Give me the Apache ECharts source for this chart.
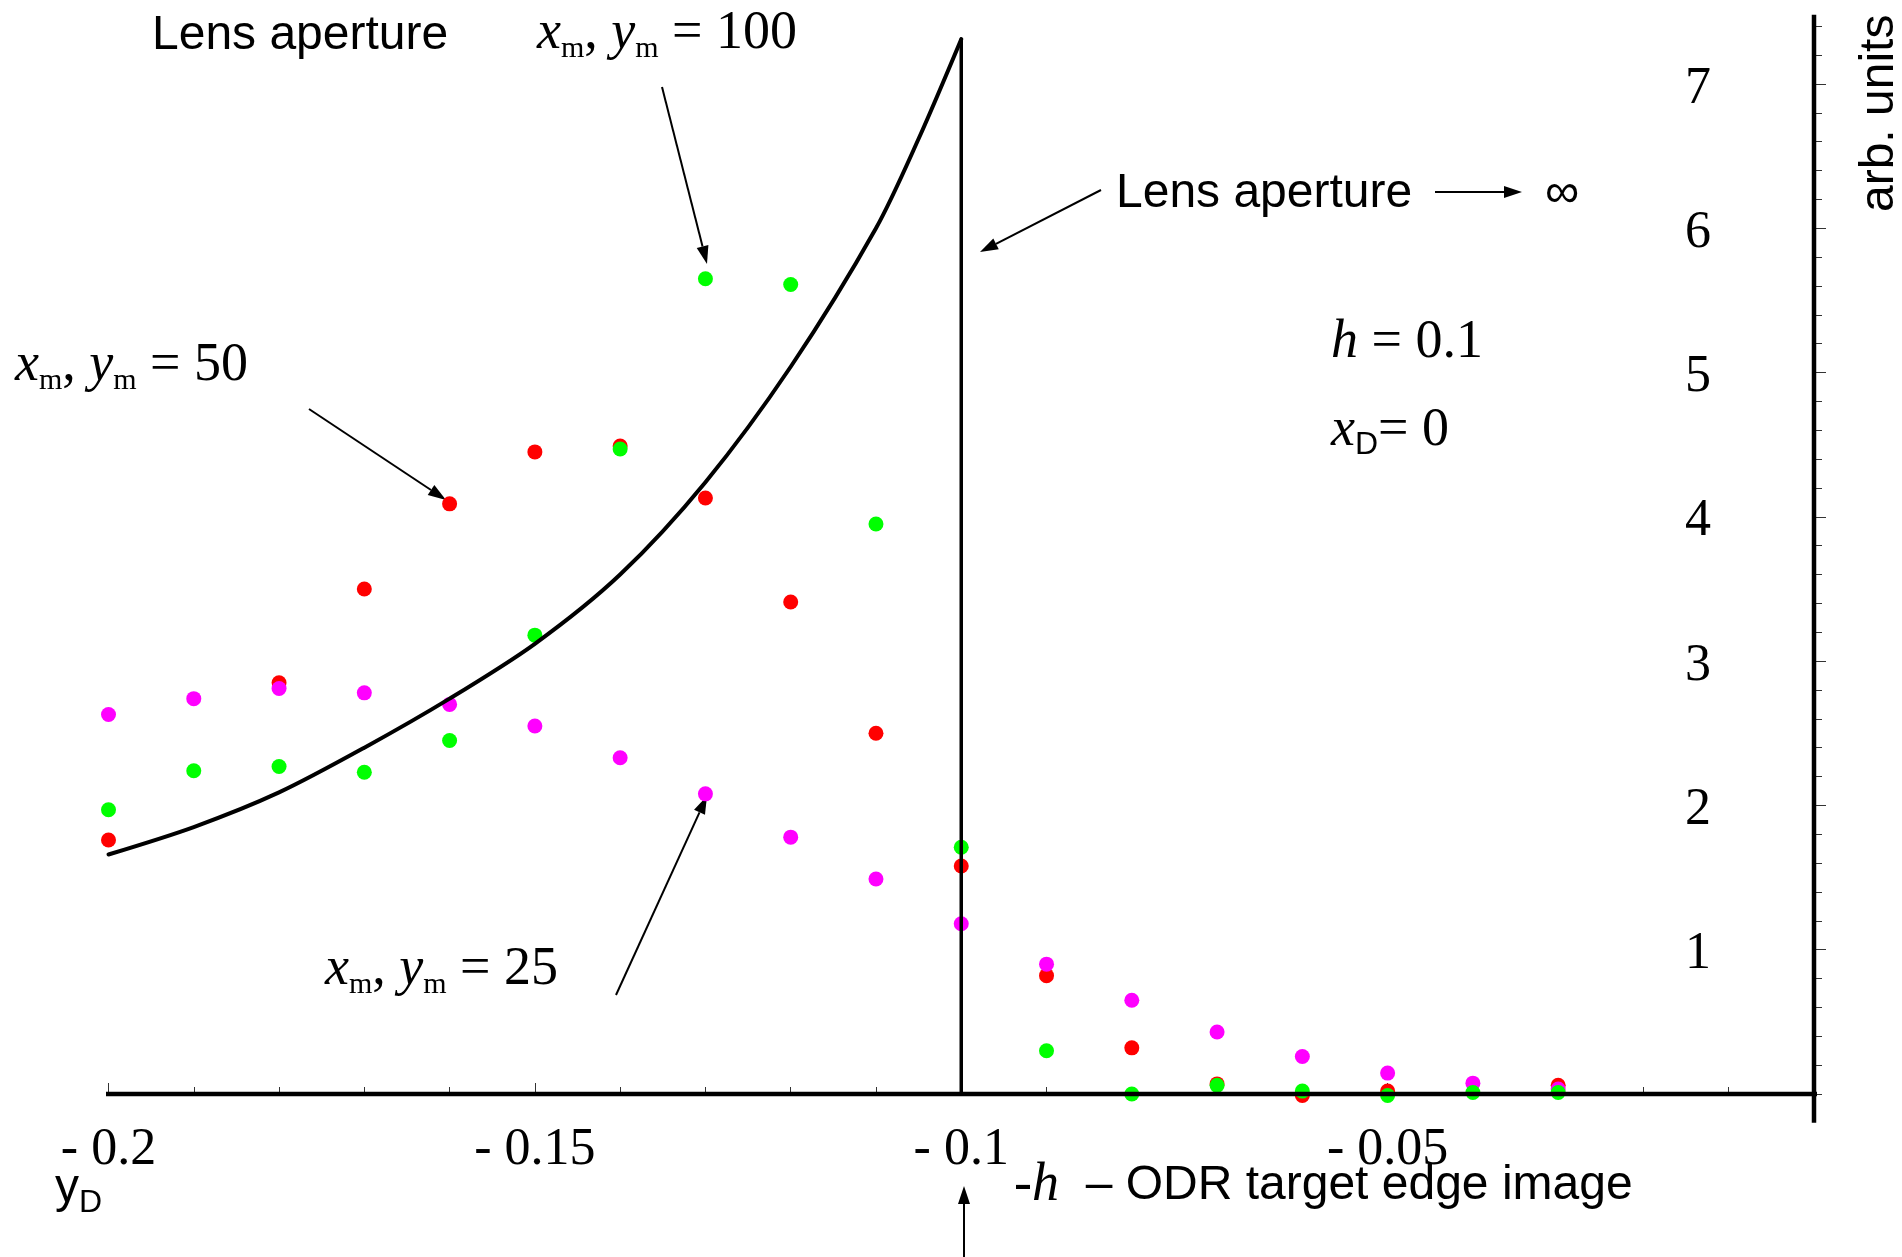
<!DOCTYPE html>
<html>
<head>
<meta charset="utf-8">
<script src="https://cdn.jsdelivr.net/npm/echarts@6/dist/echarts.min.js"></script>
<style>
  html, body { margin: 0; padding: 0; background: #fff; }
  #main { width: 1902px; height: 1257px; }
</style>
</head>
<body>
<div id="main"></div>
<script>
// sample positions y_D
const xs = [-0.2, -0.19, -0.18, -0.17, -0.16, -0.15, -0.14, -0.13, -0.12, -0.11,
            -0.1, -0.09, -0.08, -0.07, -0.06, -0.05, -0.04, -0.03];
// x_m, y_m = 50
const red = [1.76, null, 2.85, 3.50, 4.09, 4.45, 4.49, 4.13, 3.41, 2.50,
             1.58, 0.82, 0.32, 0.07, -0.01, 0.02, null, 0.06];
// x_m, y_m = 25
const magenta = [2.63, 2.74, 2.81, 2.78, 2.70, 2.55, 2.33, 2.08, 1.78, 1.49,
                 1.18, 0.90, 0.65, 0.43, 0.26, 0.145, 0.075, 0.035];
// x_m, y_m = 100
const green = [1.97, 2.24, 2.27, 2.23, 2.45, 3.18, 4.47, 5.65, 5.61, 3.95,
               1.71, 0.30, 0.0, 0.06, 0.02, -0.01, 0.01, 0.01];

// lens aperture curve up to -h
const curveX = [-0.2, -0.19, -0.18, -0.17, -0.16, -0.15, -0.14, -0.13, -0.12, -0.11, -0.105, -0.1];
const curveY = [1.66, 1.85, 2.09, 2.40, 2.74, 3.12, 3.60, 4.24, 5.04, 6.00, 6.62, 7.31];
// drop at -h
const edgeX = [-0.1, -0.1];
const edgeY = [7.31, 0];

const yLabels = [1, 2, 3, 4, 5, 6, 7];

const pairs = (a, b) => a.map((v, i) => [v, b[i]]).filter(p => p[1] !== null);

const SERIF = 'Liberation Serif';
const SANS = 'Liberation Sans';

const chart = echarts.init(document.getElementById('main'));

const mathRich = {
  i: { fontFamily: SERIF, fontStyle: 'italic', fontSize: 54, lineHeight: 60, color: '#000' },
  n: { fontFamily: SERIF, fontSize: 54, lineHeight: 60, color: '#000' },
  s: { fontFamily: SERIF, fontSize: 30, lineHeight: 12, verticalAlign: 'bottom', color: '#000' },
  d: { fontFamily: SANS, fontSize: 32, lineHeight: 18, verticalAlign: 'bottom', color: '#000' },
  a: { fontFamily: SANS, fontSize: 48, lineHeight: 60, color: '#000' }
};

function txt(x, y, text, rotation) {
  return {
    type: 'text', x: x, y: y, rotation: rotation || 0,
    style: { text: text, rich: mathRich, align: 'left', verticalAlign: 'middle' }
  };
}

function arrow(x1, y1, x2, y2) {
  const a = Math.atan2(y2 - y1, x2 - x1), L = 18, W = 6;
  const bx = x2 - L * Math.cos(a), by = y2 - L * Math.sin(a);
  return [
    { type: 'line', shape: { x1: x1, y1: y1, x2: bx, y2: by }, style: { stroke: '#000', lineWidth: 2 } },
    { type: 'polygon', shape: { points: [[x2, y2],
        [bx + W * Math.sin(a), by - W * Math.cos(a)],
        [bx - W * Math.sin(a), by + W * Math.cos(a)]] }, style: { fill: '#000' } }
  ];
}

const graphics = [
  txt(152, 36, '{a|Lens aperture}'),
  txt(537, 34, '{i|x}{s|m}{n|, }{i|y}{s|m}{n| = 100}'),
  txt(15, 366, '{i|x}{s|m}{n|, }{i|y}{s|m}{n| = 50}'),
  txt(325, 970, '{i|x}{s|m}{n|, }{i|y}{s|m}{n| = 25}'),
  txt(1116, 194, '{a|Lens aperture}'),
  txt(1545, 194, '{a|∞}'),
  txt(1331, 343, '{i|h}{n| = 0.1}'),
  txt(1331, 431, '{i|x}{d|D}{n|= 0}'),
  txt(55, 1189, '{a|y}{d|D}'),
  txt(1014, 1186, '{n|-}{i|h}{a|  – ODR target edge image}'),
  txt(1880, 212, '{a|arb. units}', Math.PI / 2)
].concat(
  arrow(662, 87, 707, 264),
  arrow(309, 409, 446, 500),
  arrow(616, 995, 707, 796),
  arrow(1101, 190, 980, 252),
  arrow(1435, 192, 1522, 192),
  arrow(964, 1257, 964, 1186)
);

const dot = (name, color, vals) => ({
  name: name, type: 'scatter', data: pairs(xs, vals), symbolSize: 15,
  itemStyle: { color: color, opacity: 1 }, clip: false, silent: true
});

chart.setOption({
  animation: false,
  backgroundColor: '#fff',
  grid: { left: 108.5, right: 88, top: 26.2, bottom: 163, containLabel: false },
  xAxis: {
    type: 'value', min: -0.2, max: 0, interval: 0.05, position: 'bottom',
    axisLine: { show: false }, splitLine: { show: false },
    axisTick: { show: true, inside: true, length: 11, lineStyle: { color: '#333', width: 1 } },
    minorTick: { show: true, splitNumber: 5, length: 7, lineStyle: { color: '#333', width: 1 } },
    axisLabel: {
      margin: 30, fontFamily: SERIF, fontSize: 52, color: '#000',
      formatter: v => (Math.abs(v) < 1e-9 ? '' : '- ' + String(+Math.abs(v).toFixed(2)))
    }
  },
  yAxis: [{
    type: 'value', min: 0, max: 7.4, interval: 0.2, position: 'right',
    axisLine: { show: false }, splitLine: { show: false },
    axisTick: { show: true, length: 8, lineStyle: { color: '#333', width: 1 } },
    axisLabel: { show: false }
  }, {
    type: 'value', min: 0, max: 7.4, interval: 1, position: 'right',
    axisLine: { show: false }, splitLine: { show: false },
    axisTick: { show: true, length: 12, customValues: yLabels, lineStyle: { color: '#333', width: 1 } },
    axisLabel: {
      inside: true, margin: 103, customValues: yLabels,
      formatter: v => '{v|' + v + '}',
      rich: { v: { fontFamily: SERIF, fontSize: 52, lineHeight: 56, padding: [10, 0, 0, 0], color: '#000' } }
    }
  }],
  series: [
    { name: 'xline', type: 'line', data: [[-0.2052, 0], [0.0052, 0]], symbol: 'none', clip: false, silent: true,
      lineStyle: { color: '#000', width: 4.5 } },
    { name: 'yline', type: 'line', data: [[0, -0.2], [0, 7.48]], symbol: 'none', clip: false, silent: true,
      lineStyle: { color: '#000', width: 4.5 } },
    { name: 'aperture', type: 'line', data: pairs(curveX, curveY), symbol: 'none', clip: false, silent: true,
      smooth: 0.3, lineStyle: { color: '#000', width: 4, cap: 'round', join: 'round' } },
    { name: 'edge', type: 'line', data: pairs(edgeX, edgeY), symbol: 'none', clip: false, silent: true,
      lineStyle: { color: '#000', width: 3.5, cap: 'round' } },
    dot('ym50', '#ff0000', red),
    dot('ym25', '#ff00ff', magenta),
    dot('ym100', '#00ff00', green)
  ],
  graphic: graphics
});
</script>
</body>
</html>
